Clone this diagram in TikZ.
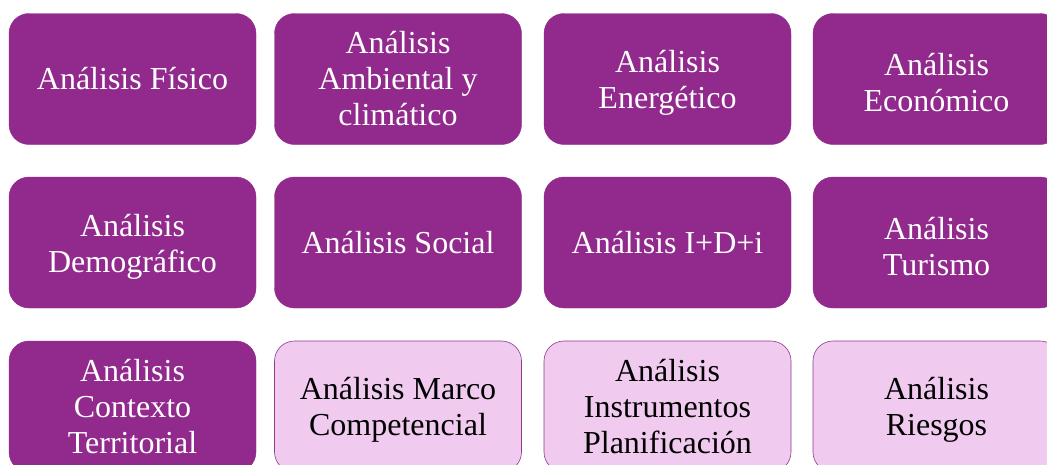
\documentclass[tikz,border=0pt]{standalone}
\usepackage{fontspec}
\setmainfont{Liberation Serif}
\definecolor{dark}{HTML}{912A8C}
\definecolor{lightfill}{HTML}{F0CBEF}
\definecolor{lightedge}{HTML}{8E3A8B}
\tikzset{
  box/.style={rectangle, rounded corners=20pt, minimum width=247pt, minimum height=131pt,
    inner sep=0pt},
  darkbox/.style={box, fill=dark, draw=dark},
  lightbox/.style={box, fill=lightfill, draw=lightedge, line width=0.6pt},
  txt/.style={inner sep=0pt, align=center, font=\fontsize{32}{36}\selectfont},
  wtxt/.style={txt, text=white},
  btxt/.style={txt, text=black}
}
\begin{document}
\begin{tikzpicture}[x=1pt,y=-1pt]
\useasboundingbox (0,0) rectangle (1047,464);
\clip (0,0) rectangle (1047,464);
\fill[white] (0,0) rectangle (1047,464);
% boxes
\node[darkbox] (fisico) at (132.5,79) {};
\node[darkbox] (ambiental) at (398,79) {};
\node[darkbox] (energetico) at (667.5,79) {};
\node[darkbox] (economico) at (936.5,79) {};
\node[darkbox] (demografico) at (132.5,242.5) {};
\node[darkbox] (social) at (398,242.5) {};
\node[darkbox] (idi) at (667.5,242.5) {};
\node[darkbox] (turismo) at (936.5,242.5) {};
\node[darkbox] (contexto) at (132.5,406.5) {};
\node[lightbox] (marco) at (398,406.5) {};
\node[lightbox] (instrumentos) at (667.5,406.5) {};
\node[lightbox] (riesgos) at (936.5,406.5) {};
% texts
\node[wtxt] (fisicoT) at (fisico.center) {Análisis Físico};
\node[wtxt] (ambientalT) at (ambiental.center) {Análisis\\Ambiental y\\climático};
\node[wtxt] (energeticoT) at ([yshift=-4pt]energetico.center) {Análisis\\Energético};
\node[wtxt] (economicoT) at ([yshift=-4pt]economico.center) {Análisis\\Económico};
\node[wtxt] (demograficoT) at ([yshift=-4pt]demografico.center) {Análisis\\Demográfico};
\node[wtxt] (socialT) at (social.center) {Análisis Social};
\node[wtxt] (idiT) at (idi.center) {Análisis I+D+i};
\node[wtxt] (turismoT) at ([yshift=-4pt]turismo.center) {Análisis\\Turismo};
\node[wtxt] (contextoT) at (contexto.center) {Análisis\\Contexto\\Territorial};
\node[btxt] (marcoT) at ([yshift=-3.5pt]marco.center) {Análisis Marco\\Competencial};
\node[btxt] (instrumentosT) at (instrumentos.center) {Análisis\\Instrumentos\\Planificación};
\node[btxt] (riesgosT) at ([yshift=-3.5pt]riesgos.center) {Análisis\\Riesgos};
\end{tikzpicture}
\end{document}
